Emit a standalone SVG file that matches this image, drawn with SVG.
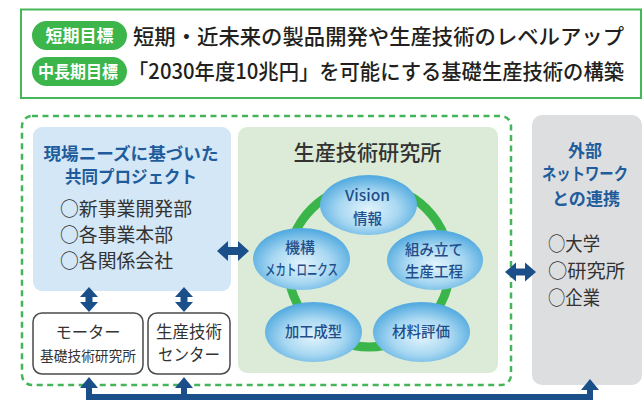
<svg xmlns="http://www.w3.org/2000/svg" width="644" height="401" viewBox="0 0 644 401">
<style>
text{font-family:"Noto Sans CJK JP","Noto Sans",sans-serif;}
.main{font-size:21px;fill:#231f20;font-weight:500;}
.pill{fill:#3cb54a;}
.pilltxt{font-size:17px;fill:#fff;font-weight:700;text-anchor:middle;}
.btitle{font-size:17px;fill:#1f5c9c;font-weight:700;text-anchor:middle;}
.item{font-size:19px;fill:#333;}
.gtitle{font-size:21px;fill:#333;text-anchor:middle;font-weight:500;}
.ell{fill:url(#eg);}
.etxt{font-size:15px;fill:#1f4e8a;text-anchor:middle;font-weight:500;}
.small{fill:#fff;stroke:#4a4a4a;stroke-width:1.5;}
.stxt{fill:#333;text-anchor:middle;}
.arr{fill:#1b4f8a;}
</style>
<defs>
<radialGradient id="eg" cx="50%" cy="58%" r="55%">
<stop offset="0" stop-color="#e2f4fc"/>
<stop offset="0.55" stop-color="#a9d8f2"/>
<stop offset="1" stop-color="#56ace0"/>
</radialGradient>
</defs>

<g id="goals">
<rect x="21" y="9.5" width="620" height="88.5" fill="#fff" stroke="#46b65a" stroke-width="2"/>
<rect class="pill" x="32" y="21" width="95" height="29" rx="14.5"/>
<text class="pilltxt" x="79.5" y="42" textLength="68" lengthAdjust="spacingAndGlyphs">短期目標</text>
<rect class="pill" x="32" y="57" width="95" height="29" rx="14.5"/>
<text class="pilltxt" x="78" y="78" textLength="80" lengthAdjust="spacingAndGlyphs">中長期目標</text>
<text class="main" x="133" y="44" textLength="491" lengthAdjust="spacingAndGlyphs">短期・近未来の製品開発や生産技術のレベルアップ</text>
<text class="main" x="128" y="79" textLength="496" lengthAdjust="spacingAndGlyphs">「2030年度10兆円」を可能にする基礎生産技術の構築</text>
</g>

<g id="group-frame">
<rect x="22" y="116" width="489" height="269" rx="10" fill="none" stroke="#45b55a" stroke-width="2.5" stroke-dasharray="6 4.5"/>
</g>

<g id="joint-project">
<rect x="33" y="127" width="198" height="164" rx="9" fill="#d4e7f6"/>
<text class="btitle" x="131" y="160" textLength="175" lengthAdjust="spacingAndGlyphs">現場ニーズに基づいた</text>
<text class="btitle" x="131" y="183" textLength="132" lengthAdjust="spacingAndGlyphs">共同プロジェクト</text>
<text class="item" x="60" y="216" textLength="132" lengthAdjust="spacingAndGlyphs">○新事業開発部</text>
<text class="item" x="60" y="242" textLength="113" lengthAdjust="spacingAndGlyphs">○各事業本部</text>
<text class="item" x="60" y="268" textLength="113" lengthAdjust="spacingAndGlyphs">○各関係会社</text>
</g>

<g id="motor-lab">
<rect class="small" x="33" y="313" width="110" height="61" rx="9"/>
<text class="stxt" x="88" y="338" font-size="16" textLength="65" lengthAdjust="spacingAndGlyphs">モーター</text>
<text class="stxt" x="88" y="361" font-size="14" textLength="96" lengthAdjust="spacingAndGlyphs">基礎技術研究所</text>
</g>

<g id="prod-center">
<rect class="small" x="148" y="313" width="82" height="61" rx="9"/>
<text class="stxt" x="189" y="338" font-size="16.5" textLength="66" lengthAdjust="spacingAndGlyphs">生産技術</text>
<text class="stxt" x="189" y="361" font-size="16.5" textLength="62" lengthAdjust="spacingAndGlyphs">センター</text>
</g>

<g id="prod-lab">
<rect x="238" y="127" width="260" height="246" rx="9" fill="#dcebd7"/>
<text class="gtitle" x="367.5" y="160" textLength="148" lengthAdjust="spacingAndGlyphs">生産技術研究所</text>
<circle cx="369" cy="266" r="81" fill="none" stroke="#3ab54a" stroke-width="9"/>
</g>

<g id="vision">
<ellipse class="ell" cx="368.5" cy="205" rx="48.5" ry="30"/>
<text class="etxt" x="367.5" y="201" font-size="16" textLength="45" lengthAdjust="spacingAndGlyphs">Vision</text>
<text class="etxt" x="367.5" y="224" textLength="29" lengthAdjust="spacingAndGlyphs">情報</text>
</g>
<g id="mechatronics">
<ellipse class="ell" cx="301.5" cy="259" rx="48.5" ry="31"/>
<text class="etxt" x="300" y="253" textLength="30" lengthAdjust="spacingAndGlyphs">機構</text>
<text class="etxt" x="301.5" y="275" font-size="14" textLength="73" lengthAdjust="spacingAndGlyphs">メカトロニクス</text>
</g>
<g id="assembly">
<ellipse class="ell" cx="435" cy="260" rx="48" ry="30"/>
<text class="etxt" x="434" y="255" textLength="58" lengthAdjust="spacingAndGlyphs">組み立て</text>
<text class="etxt" x="434" y="277" textLength="58" lengthAdjust="spacingAndGlyphs">生産工程</text>
</g>
<g id="forming">
<ellipse class="ell" cx="313.5" cy="332" rx="48.5" ry="30"/>
<text class="etxt" x="313.5" y="337" font-size="16" textLength="57" lengthAdjust="spacingAndGlyphs">加工成型</text>
</g>
<g id="materials">
<ellipse class="ell" cx="421.5" cy="332" rx="48.5" ry="30"/>
<text class="etxt" x="421" y="337" font-size="16" textLength="58" lengthAdjust="spacingAndGlyphs">材料評価</text>
</g>

<g id="external">
<rect x="532" y="115" width="110" height="270" rx="10" fill="#dddee0"/>
<text class="btitle" x="585" y="157" textLength="34" lengthAdjust="spacingAndGlyphs">外部</text>
<text class="btitle" x="585" y="180" textLength="86" lengthAdjust="spacingAndGlyphs">ネットワーク</text>
<text class="btitle" x="586" y="205" textLength="68" lengthAdjust="spacingAndGlyphs">との連携</text>
<text class="item" x="548" y="251" textLength="52" lengthAdjust="spacingAndGlyphs">○大学</text>
<text class="item" x="548" y="278" textLength="77" lengthAdjust="spacingAndGlyphs">○研究所</text>
<text class="item" x="548" y="305" textLength="52" lengthAdjust="spacingAndGlyphs">○企業</text>
</g>

<g id="connectors">
<polygon class="arr" points="217,251 228,241 228,247 238,247 238,241 249,251 238,261 238,255 228,255 228,261"/>
<polygon class="arr" points="505,272 516,262.5 516,268.5 525,268.5 525,262.5 536,272 525,281.5 525,275.5 516,275.5 516,281.5"/>
<polygon class="arr" points="89,287 98,297 92.5,297 92.5,302 98,302 89,312 80,302 85.5,302 85.5,297 80,297"/>
<polygon class="arr" points="184,287 193,297 187.5,297 187.5,302 193,302 184,312 175,302 180.5,302 180.5,297 175,297"/>
<path d="M89,386 V397 H590 V388 M184,386 V397" fill="none" stroke="#1b4f8a" stroke-width="6"/>
<polygon class="arr" points="89,377 98,388 80,388"/>
<polygon class="arr" points="184,377 193,388 175,388"/>
<polygon class="arr" points="590,379 599,390 581,390"/>
</g>
</svg>
